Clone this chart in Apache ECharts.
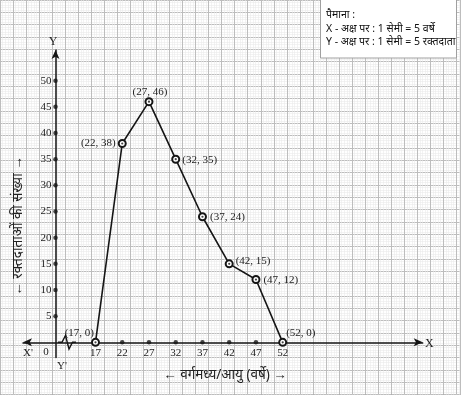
<!DOCTYPE html>
<html>
<head>
<meta charset="utf-8">
<script src="https://cdn.jsdelivr.net/npm/echarts@6/dist/echarts.min.js"></script>
<style>
  html, body { margin: 0; padding: 0; background: #fff; }
  #chart { width: 464px; height: 400px; }
</style>
</head>
<body>
<div id="chart"></div>
<script>
const ages = [17, 22, 27, 32, 37, 42, 47, 52];
const donors = [0, 38, 46, 35, 24, 15, 12, 0];
const xTicks = [17, 22, 27, 32, 37, 42, 47, 52];
const yTicks = [5, 10, 15, 20, 25, 30, 35, 40, 45, 50];

const xTitle = '← वर्गमध्य/आयु (वर्षे) →';
const yTitle = '← रक्तदाताओं की संख्या →';
const scaleLines = ['पैमाना :', 'X - अक्ष पर : 1 सेमी = 5 वर्षे', 'Y - अक्ष पर : 1 सेमी = 5 रक्तदाता'];

// where each "(x, y)" tag sits around its point
const labelPlace = [
  { position: 'left', distance: 0, offset: [3, -9] },
  { position: 'left', distance: 2, offset: [0, 0] },
  { position: 'top', distance: 0, offset: [1, 0] },
  { position: 'right', distance: 2, offset: [0, 1] },
  { position: 'right', distance: 3, offset: [0, 0] },
  { position: 'right', distance: 2, offset: [0, -3] },
  { position: 'right', distance: 3, offset: [0, 1] },
  { position: 'right', distance: 0, offset: [-1, -9] },
];

const serif = 'Liberation Serif';
const ink = '#151515';

// x scale: the axis is broken, so the visible range starts below 17
const xMin = 3.444, xMax = 78.18;
const pxPerYear = 399.7 / (xMax - xMin);
const yAxisShift = 32.5; // y axis sits this far right of the grid edge
const yAxisX = xMin + yAxisShift / pxPerYear;

const chart = echarts.init(document.getElementById('chart'));

// graph paper: two hidden axis pairs, same scale as the plot
const paperGrid = { left: -11.5, right: 4, top: -23.9, bottom: 5.4 };
const paperAxis = (idx, min, max, interval, color, minor) => ({
  type: 'value', min, max, interval, silent: true, gridIndex: idx,
  axisLine: { show: false }, axisTick: { show: false }, axisLabel: { show: false },
  splitLine: { show: true, lineStyle: { color, width: 1 } },
  minorTick: { show: false, splitNumber: 10 },
  minorSplitLine: { show: !!minor, lineStyle: { color: '#ebebeb', width: 0.6 } },
});

const points = ages.map((a, i) => ({
  value: [a, donors[i]],
  label: {
    show: true,
    formatter: '(' + a + ', ' + donors[i] + ')',
    position: labelPlace[i].position,
    distance: labelPlace[i].distance,
    offset: labelPlace[i].offset,
  },
}));

chart.setOption({
  animation: false,
  backgroundColor: '#fff',
  grid: [
    { left: 23, right: 41.3, top: 50, bottom: 42.5 },
    paperGrid,
    paperGrid,
  ],
  xAxis: [
    {
      type: 'value', min: xMin, max: xMax, gridIndex: 0, offset: -15.2,
      axisLine: { onZero: false, symbol: ['arrow', 'arrow'], symbolSize: [6, 9], lineStyle: { color: ink, width: 1.5 } },
      axisTick: { show: false },
      axisLabel: { customValues: xTicks, margin: 5, color: '#222', fontFamily: serif, fontSize: 11 },
      splitLine: { show: false },
    },
    paperAxis(1, -3, 85.2, 5, '#858585', true),
    paperAxis(2, -3, 85.2, 2.5, '#bdbdbd', false),
  ],
  yAxis: [
    {
      type: 'value', min: -2.9, max: 55.87, gridIndex: 0, offset: -yAxisShift,
      axisLine: { onZero: false, symbol: ['none', 'arrow'], symbolSize: [6, 9], lineStyle: { color: ink, width: 1.5 } },
      axisTick: { show: false },
      axisLabel: { customValues: yTicks, margin: 4, color: '#222', fontFamily: serif, fontSize: 11 },
      splitLine: { show: false },
    },
    paperAxis(1, -10, 70, 5, '#858585', true),
    paperAxis(2, -10, 70, 2.5, '#bdbdbd', false),
  ],
  series: [
    {
      // tick dots on both axes
      type: 'scatter', xAxisIndex: 0, yAxisIndex: 0, silent: true, z: 3,
      symbolSize: 4.5, itemStyle: { color: ink },
      data: xTicks.slice(1, -1).map(v => [v, 0]).concat(yTicks.map(v => [yAxisX, v])),
    },
    {
      type: 'line', xAxisIndex: 0, yAxisIndex: 0, z: 4,
      symbol: 'emptyCircle', symbolSize: 7,
      lineStyle: { color: ink, width: 1.6 },
      itemStyle: { color: ink, borderWidth: 1.2 },
      label: { color: '#222', fontFamily: serif, fontSize: 11 },
      data: points,
    },
    {
      type: 'scatter', xAxisIndex: 0, yAxisIndex: 0, silent: true, z: 5,
      symbolSize: 2.2, itemStyle: { color: ink },
      data: ages.map((a, i) => [a, donors[i]]),
    },
  ],
  graphic: [
    { type: 'polyline', z: 10, shape: { points: [[58, 342.3], [62, 342.3], [65.5, 335.5], [69, 349], [72.5, 342.3], [76, 342.3]] },
      style: { stroke: ink, lineWidth: 1.4, fill: null } },
    { type: 'text', z: 10, x: 53, y: 42, style: { text: 'Y', font: '12px ' + serif, fill: '#222', align: 'center', verticalAlign: 'middle' } },
    { type: 'text', z: 10, x: 425, y: 343.5, style: { text: 'X', font: '12px ' + serif, fill: '#222', align: 'left', verticalAlign: 'middle' } },
    { type: 'text', z: 10, x: 28, y: 353, style: { text: "X'", font: '11px ' + serif, fill: '#222', align: 'center', verticalAlign: 'middle' } },
    { type: 'text', z: 10, x: 46, y: 352, style: { text: '0', font: '11px ' + serif, fill: '#222', align: 'center', verticalAlign: 'middle' } },
    { type: 'text', z: 10, x: 62, y: 366, style: { text: "Y'", font: '11px ' + serif, fill: '#222', align: 'center', verticalAlign: 'middle' } },
    { type: 'text', z: 10, x: 225, y: 375, style: { text: xTitle, font: '13.5px "Noto Sans", sans-serif', fill: '#222', align: 'center', verticalAlign: 'middle' } },
    { type: 'text', z: 10, x: 18, y: 226, rotation: Math.PI / 2,
      style: { text: yTitle, font: '13.5px "Noto Sans", sans-serif', fill: '#222', align: 'center', verticalAlign: 'middle' } },
    { type: 'rect', z: 10, shape: { x: 320.5, y: -1, width: 136, height: 59 }, style: { fill: '#fff', stroke: '#a0a0a0', lineWidth: 1 } },
    ...scaleLines.map((t, i) => ({
      type: 'text', z: 11, x: 326, y: 15.5 + i * 13.2,
      style: { text: t, font: '10.5px "Noto Sans", sans-serif', fill: '#111', align: 'left', verticalAlign: 'middle' },
    })),
  ],
});
</script>
</body>
</html>
